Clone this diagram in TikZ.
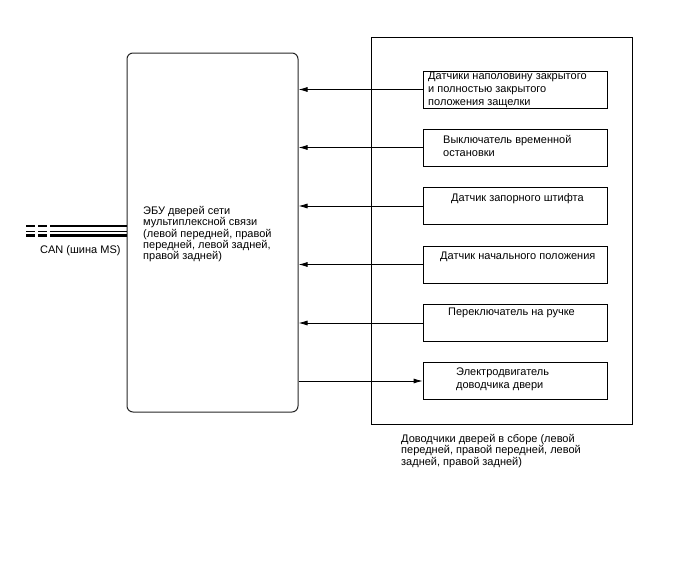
\documentclass[tikz,border=0pt]{standalone}
\usepackage{fontspec}
\setmainfont{Liberation Sans}
\usetikzlibrary{arrows.meta}
\begin{document}
\begin{tikzpicture}[x=1pt,y=-1pt,
  box/.style={draw=black,line width=0.8pt,minimum width=184pt,minimum height=37pt,inner sep=0pt},
  txt/.style={anchor=north west,align=left,inner sep=0pt,font=\fontsize{11}{12.8}\selectfont},
  etxt/.style={txt,font=\fontsize{11}{11.4}\selectfont},
  arr/.style={line width=0.8pt,-{Latex[length=9pt,width=5pt]}},
  thickbus/.style={line width=2.3pt},
  thinbus/.style={line width=0.8pt},
  busdash/.style={dash pattern=on 9pt off 3pt}]
\useasboundingbox (0,0) rectangle (688,560);
% ECU
\node[draw=black!85,line width=1pt,rounded corners=6pt,minimum width=171pt,minimum height=359pt,inner sep=0pt] (ecu) at (212.5,232.5) {};
% outer assembly box
\node[draw=black,line width=0.8pt,minimum width=261pt,minimum height=387pt,inner sep=0pt] (outer) at (501.5,230.5) {};
% inner boxes
\node[box] (b1) at (515,89.5) {};
\node[box] (b2) at (515,147.5) {};
\node[box] (b3) at (515,206) {};
\node[box] (b4) at (515,264.5) {};
\node[box] (b5) at (515,323) {};
\node[box] (b6) at (515,381) {};
% arrows
\foreach \b in {b1,b2,b3,b4,b5}{\draw[arr] (\b.west) -- (\b.west -| ecu.east);}
\draw[arr] (b6.west -| ecu.east) -- (b6.west);
% texts
\node[txt] (t1) at (428,72) {Датчики наполовину закрытого\\и полностью закрытого\\положения защелки};
\node[txt] (t2) at (443,135) {Выключатель временной\\остановки};
\node[txt] (t3) at (451,193) {Датчик запорного штифта};
\node[txt] (t4) at (440,252) {Датчик начального положения};
\node[txt] (t5) at (448,308) {Переключатель на ручке};
\node[txt] (t6) at (456,368) {Электродвигатель\\доводчика двери};
\node[etxt] (te) at (143,206) {ЭБУ дверей сети\\мультиплексной связи\\(левой передней, правой\\передней, левой задней,\\правой задней)};
\node[etxt,font=\fontsize{11}{11.6}\selectfont] (tb) at (401,434) {Доводчики дверей в сборе (левой\\передней, правой передней, левой\\задней, правой задней)};
\node[txt] (tcan) at (40,245) {CAN (шина MS)};
% CAN bus
\coordinate (c1) at (26,226);
\coordinate (c2) at (26,231);
\coordinate (c3) at (26,235.5);
\coordinate (s1) at (50,226);
\coordinate (s2) at (50,231);
\coordinate (s3) at (50,235.5);
\draw[thickbus,busdash] (c1) -- (s1);
\draw[thinbus,busdash] (c2) -- (s2);
\draw[thickbus,busdash] (c3) -- (s3);
\draw[thickbus] (s1) -- (s1 -| ecu.west);
\draw[thinbus] (s2) -- (s2 -| ecu.west);
\draw[thickbus] (s3) -- (s3 -| ecu.west);
\end{tikzpicture}
\end{document}
